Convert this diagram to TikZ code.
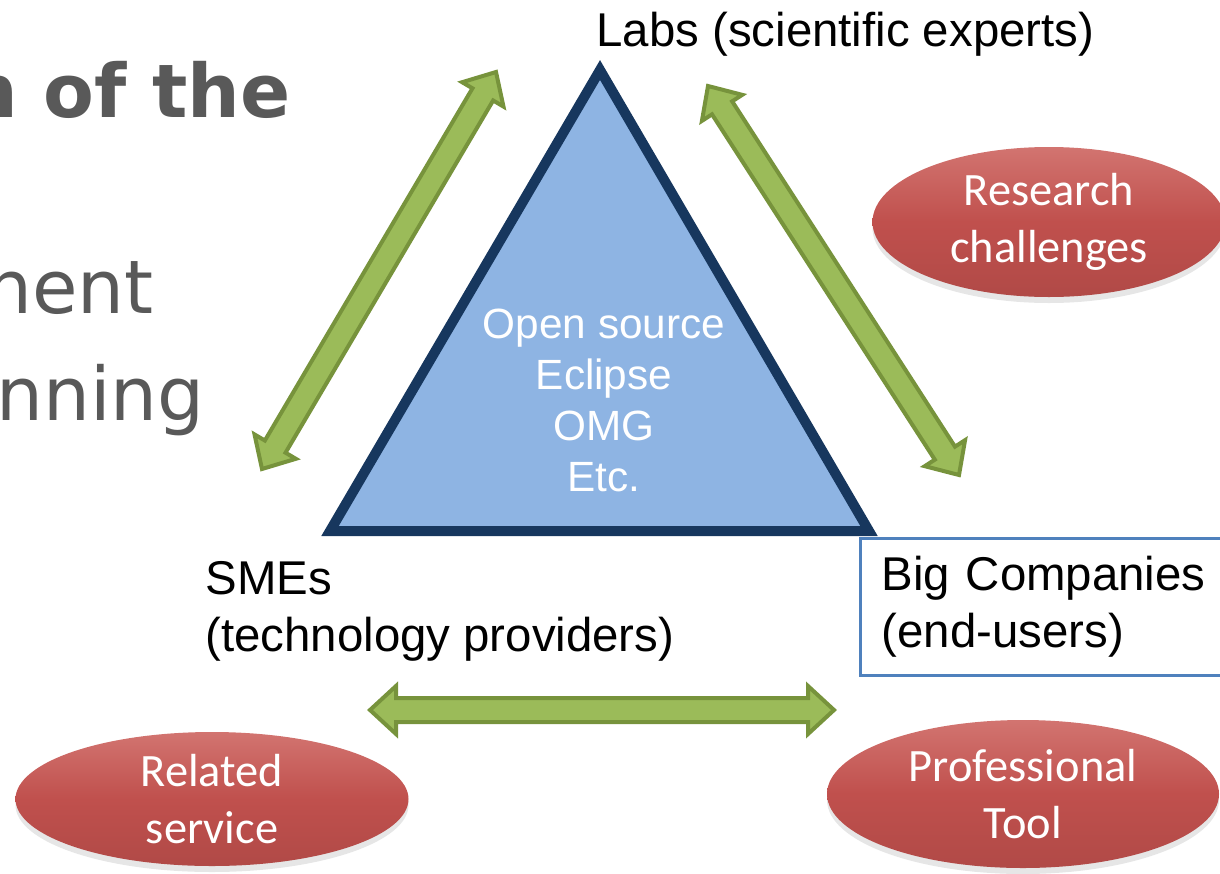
\documentclass[tikz,border=0pt]{standalone}
\usepackage{fontspec}
\setmainfont{Liberation Sans}
\newfontfamily\calib{Carlito}
\newfontfamily\verd{DejaVu Sans}
\usetikzlibrary{calc,shapes.geometric,shadows}

\definecolor{triblue}{HTML}{8EB4E3}
\definecolor{trinavy}{HTML}{17375E}
\definecolor{leaf}{HTML}{9BBB59}
\definecolor{leafdark}{HTML}{77933C}
\definecolor{boxblue}{HTML}{4F81BD}
\definecolor{bubred}{HTML}{C0504D}
\definecolor{bubtop}{HTML}{D27470}
\definecolor{slidegray}{HTML}{595959}

% broad two-headed arrow between two named points
\newcommand{\fatarrow}[2]{%
  \coordinate (ha) at ($(#1)!13pt!(#2)$);
  \coordinate (hb) at ($(#2)!13pt!(#1)$);
  \draw[arrowbody] (#1) -- ($(ha)!12pt!90:(#2)$) -- ($(ha)!6pt!90:(#2)$)
    -- ($(hb)!6pt!-90:(#1)$) -- ($(hb)!12pt!-90:(#1)$) -- (#2)
    -- ($(hb)!12pt!90:(#1)$) -- ($(hb)!6pt!90:(#1)$)
    -- ($(ha)!6pt!-90:(#2)$) -- ($(ha)!12pt!-90:(#2)$) -- cycle;}

\begin{document}
\begin{tikzpicture}[x=0.5pt, y=-0.5pt,
  tag/.style={font=\fontsize{23.7}{28.5}\selectfont, align=left, inner sep=0},
  bubble/.style={ellipse, inner sep=0, text=white, align=center, top color=bubtop, bottom color=bubred!92!black, middle color=bubred, drop shadow={opacity=0.2, shadow xshift=0pt, shadow yshift=-3pt}, font=\calib\fontsize{23.2}{28.5}\selectfont},
  arrowbody/.style={fill=leaf, draw=leafdark, line width=2pt},
  slide/.style={text=slidegray, inner sep=0, anchor=base east, font=\verd\fontsize{37}{44}\selectfont}]
  \useasboundingbox (0,0) rectangle (1220,873);

  % what is left of the slide text
  \node[slide, font=\verd\bfseries\fontsize{37}{44}\selectfont] (title) at (291,117) {n of the};
  \node[slide] (bullA) at (154,313) {nent};
  \node[slide] (bullB) at (205,420) {nning};

  \draw[fill=triblue, draw=trinavy, line width=5pt] (600,70) -- (869,531) -- (330,531) -- cycle;
  \node[font=\fontsize{21.15}{25.5}\selectfont, text=white, align=center, inner sep=0] (core) at (604,400) {Open source\\Eclipse\\OMG\\Etc.};

  \node[tag, anchor=base west] (labs) at (596,46) {Labs (scientific experts)};
  \node[tag, anchor=base west] (smes) at (205,651) {SMEs\\(technology providers)};
  \node[tag, draw=boxblue, line width=1.5pt, anchor=north west, minimum width=190.5pt, minimum height=68.5pt, inner xsep=10.5pt, text width=169.5pt] (big) at (859,537) {Big Companies\\(end-users)};

  \coordinate (labsL) at (496,72);
  \coordinate (smesT) at (262,469);
  \coordinate (labsR) at (708,86);
  \coordinate (bigT) at (959,475);
  \coordinate (smesR) at (370,710);
  \coordinate (bigL) at (834,710);
  \fatarrow{labsL}{smesT}
  \fatarrow{labsR}{bigT}
  \fatarrow{smesR}{bigL}

  \node[bubble, minimum width=176.5pt, minimum height=75pt] (research) at (1049,222) {Research\\challenges};
  \node[bubble, minimum width=196.5pt, minimum height=67pt] (related) at (212,799) {Related\\service};
  \node[bubble, minimum width=196pt, minimum height=74pt] (tool) at (1023,794) {Professional\\Tool};
\end{tikzpicture}
\end{document}
